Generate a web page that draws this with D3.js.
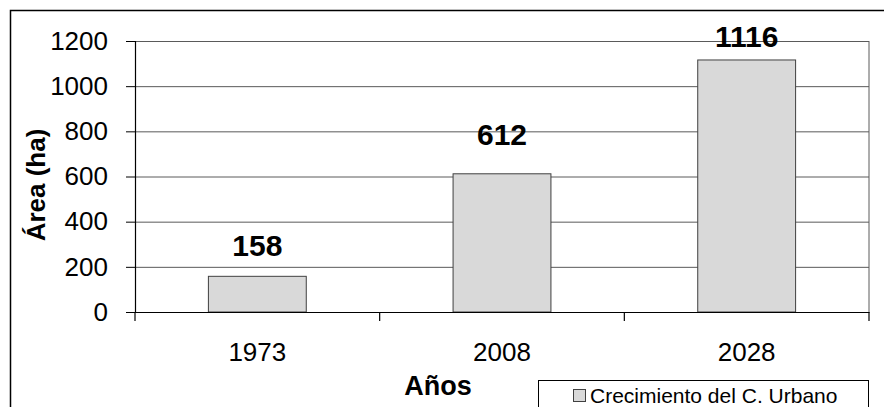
<!DOCTYPE html>
<html>
<head>
<meta charset="utf-8">
<script src="https://cdn.jsdelivr.net/npm/d3@7"></script>
<style>
  html, body { margin: 0; padding: 0; background: #ffffff; }
  svg { display: block; font-family: "Liberation Sans", Arial, sans-serif; }
</style>
</head>
<body>
<svg id="chart" width="884" height="407"></svg>
<script>
// ---- data ----
const categories = ["1973", "2008", "2028"];
const values = [158, 612, 1116];
const yTicks = [0, 200, 400, 600, 800, 1000, 1200];
const seriesName = "Crecimiento del C. Urbano";
const yTitle = "Área (ha)";
const xTitle = "Años";

// ---- layout (not data) ----
const labelOffsets = [20, 29, 13];
const plot = { left: 135, right: 869, top: 41, bottom: 312 };

const svg = d3.select("#chart");

// outer border
svg.append("rect")
  .attr("x", 10.5).attr("y", 10.5)
  .attr("width", 1000).attr("height", 1000)
  .attr("fill", "#ffffff")
  .attr("stroke", "#000").attr("stroke-width", 1.5);

const x = d3.scaleBand().domain(categories).range([plot.left, plot.right]).paddingInner(0).paddingOuter(0);
const y = d3.scaleLinear().domain([0, 1200]).range([plot.bottom, plot.top]);

// gridlines
const grid = svg.append("g")
  .attr("transform", `translate(${plot.left},0)`)
  .call(d3.axisLeft(y).tickValues(yTicks.filter(d => d > 0)).tickSize(-(plot.right - plot.left)).tickFormat(""));
grid.select(".domain").remove();
grid.selectAll("line").attr("stroke", "#5a5a5a").attr("stroke-width", 1);

// right plot border
svg.append("line")
  .attr("x1", plot.right).attr("x2", plot.right)
  .attr("y1", y(1200)).attr("y2", y(0))
  .attr("stroke", "#5a5a5a").attr("stroke-width", 1);

// bars
const bw = x.bandwidth() * 0.4;
svg.append("g").selectAll("rect")
  .data(values)
  .join("rect")
  .attr("x", (d, i) => x(categories[i]) + x.bandwidth() / 2 - bw / 2)
  .attr("y", d => y(d))
  .attr("width", bw)
  .attr("height", d => y(0) - y(d))
  .attr("fill", "#d9d9d9")
  .attr("stroke", "#404040")
  .attr("stroke-width", 1);

// y axis
const yAxis = svg.append("g")
  .attr("transform", `translate(${plot.left},0)`)
  .call(d3.axisLeft(y).tickValues(yTicks).tickSize(9).tickPadding(18).tickFormat(d3.format("d")));
yAxis.select(".domain").attr("stroke", "#000").attr("stroke-width", 1.2);
yAxis.selectAll(".tick line").attr("stroke", "#000");
yAxis.selectAll("text")
  .attr("fill", "#000")
  .style("font-size", "26px")
  .style("font-family", "'Liberation Sans', Arial, sans-serif");

// x axis
const xAxis = svg.append("g")
  .attr("transform", `translate(0,${plot.bottom})`)
  .call(d3.axisBottom(x).tickSize(0).tickPadding(31));
xAxis.select(".domain").attr("stroke", "#000").attr("stroke-width", 1.2);
xAxis.selectAll("text")
  .attr("fill", "#000")
  .style("font-size", "26px")
  .style("font-family", "'Liberation Sans', Arial, sans-serif");

// category boundary ticks
const bounds = categories.map(c => x(c)).concat([x.range()[1]]);
svg.append("g").selectAll("line")
  .data(bounds)
  .join("line")
  .attr("x1", d => d).attr("x2", d => d)
  .attr("y1", plot.bottom).attr("y2", plot.bottom + 9)
  .attr("stroke", "#000").attr("stroke-width", 1.2);

// value labels
svg.append("g").selectAll("text")
  .data(values)
  .join("text")
  .attr("x", (d, i) => x(categories[i]) + x.bandwidth() / 2)
  .attr("y", (d, i) => y(d) - labelOffsets[i])
  .attr("text-anchor", "middle")
  .style("font-size", "30px")
  .style("font-weight", "bold")
  .attr("fill", "#000")
  .text(d => d);

// y title
svg.append("text")
  .attr("transform", "translate(45,185) rotate(-90)")
  .attr("text-anchor", "middle")
  .style("font-size", "26px")
  .style("font-weight", "bold")
  .attr("fill", "#000")
  .text(yTitle);

// x title
svg.append("text")
  .attr("x", 438).attr("y", 395)
  .attr("text-anchor", "middle")
  .style("font-size", "27px")
  .style("font-weight", "bold")
  .attr("fill", "#000")
  .text(xTitle);

// legend
const lg = svg.append("g");
lg.append("rect")
  .attr("x", 538.5).attr("y", 380.5)
  .attr("width", 330).attr("height", 60)
  .attr("fill", "#fff")
  .attr("stroke", "#000").attr("stroke-width", 1);
lg.append("rect")
  .attr("x", 573.5).attr("y", 389.5)
  .attr("width", 12).attr("height", 12)
  .attr("fill", "#d9d9d9")
  .attr("stroke", "#404040").attr("stroke-width", 1);
lg.append("text")
  .attr("x", 590).attr("y", 403)
  .style("font-size", "21px")
  .attr("fill", "#000")
  .text(seriesName);
</script>
</body>
</html>
